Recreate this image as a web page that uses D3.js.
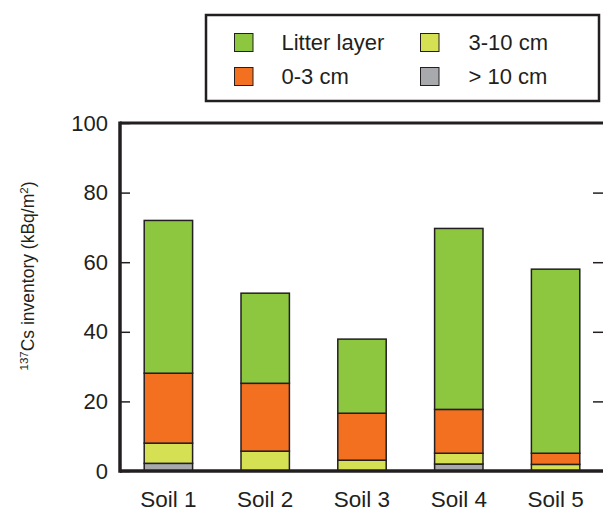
<!DOCTYPE html>
<html>
<head>
<meta charset="utf-8">
<script src="https://cdn.jsdelivr.net/npm/d3@7"></script>
<style>
  html, body { margin: 0; padding: 0; background: #fff; }
  svg { display: block; font-family: "Liberation Sans", Arial, Helvetica, sans-serif; }
</style>
</head>
<body>
<svg id="chart" width="603" height="511"></svg>
<script>
// Soil profiles and 137Cs inventory per layer (kBq/m2)
const soils = ["Soil 1", "Soil 2", "Soil 3", "Soil 4", "Soil 5"];
const layers = ["> 10 cm", "3-10 cm", "0-3 cm", "Litter layer"];
const deep = [2.2, 0, 0, 2.0, 0];          // > 10 cm
const mid = [5.8, 5.7, 3.1, 3.1, 1.9];     // 3-10 cm
const top3 = [20.1, 19.5, 13.5, 12.6, 3.2]; // 0-3 cm
const litter = [43.9, 25.9, 21.3, 52.0, 52.9]; // litter layer
const yTicks = [0, 20, 40, 60, 80, 100];

const colors = {
  "Litter layer": "#8dc63f",
  "0-3 cm": "#f37021",
  "3-10 cm": "#d5e052",
  "> 10 cm": "#a7a9ac"
};
const ink = "#231f20";

const rows = soils.map((s, i) => ({
  soil: s,
  "> 10 cm": deep[i],
  "3-10 cm": mid[i],
  "0-3 cm": top3[i],
  "Litter layer": litter[i]
}));

const svg = d3.select("#chart");
const left = 120, right = 604, topY = 123, bottom = 471;

const x = d3.scaleBand().domain(soils).range([left, right]).paddingInner(0.5).paddingOuter(0.25);
const y = d3.scaleLinear().domain([0, 100]).range([bottom, topY]);

const stacked = d3.stack().keys(layers)(rows);

// stacked bars
svg.append("g").selectAll("g")
  .data(stacked)
  .join("g")
  .attr("fill", d => colors[d.key])
  .selectAll("rect")
  .data(d => d.filter(p => p[1] - p[0] > 0))
  .join("rect")
  .attr("x", d => x(d.data.soil))
  .attr("width", x.bandwidth())
  .attr("y", d => y(d[1]))
  .attr("height", d => y(d[0]) - y(d[1]))
  .attr("stroke", ink)
  .attr("stroke-width", 1.5);

// left axis with inward ticks
const yAxis = svg.append("g")
  .attr("transform", `translate(${left},0)`)
  .call(d3.axisLeft(y).tickValues(yTicks).tickSize(-10).tickPadding(12).tickFormat(d3.format("d")));
yAxis.select(".domain").remove();
yAxis.selectAll(".tick line").attr("stroke", ink).attr("stroke-width", 1.5);
yAxis.selectAll(".tick text").attr("font-size", 22).attr("fill", ink)
  .attr("font-family", "'Liberation Sans', Arial, sans-serif");

// right axis ticks (inward)
const yAxisR = svg.append("g")
  .attr("transform", `translate(${right - 1},0)`)
  .call(d3.axisRight(y).tickValues(yTicks.slice(1, -1)).tickSize(-10).tickFormat(""));
yAxisR.select(".domain").remove();
yAxisR.selectAll(".tick line").attr("stroke", ink).attr("stroke-width", 1.5);

// frame lines
svg.append("line").attr("x1", left).attr("x2", 603).attr("y1", bottom).attr("y2", bottom)
  .attr("stroke", ink).attr("stroke-width", 3.5);
svg.append("line").attr("x1", left).attr("x2", 603).attr("y1", topY).attr("y2", topY)
  .attr("stroke", ink).attr("stroke-width", 3);
svg.append("line").attr("x1", left).attr("x2", left).attr("y1", topY - 1.5).attr("y2", bottom + 1.75)
  .attr("stroke", ink).attr("stroke-width", 3.5);

// category labels
svg.append("g").selectAll("text")
  .data(soils)
  .join("text")
  .attr("x", d => x(d) + x.bandwidth() / 2)
  .attr("y", 507)
  .attr("text-anchor", "middle")
  .attr("font-size", 22.5)
  .attr("fill", ink)
  .text(d => d);

// y axis title with superscripts
const title = svg.append("text")
  .attr("transform", "translate(34,276) rotate(-90)")
  .attr("text-anchor", "middle")
  .attr("font-size", 17.5)
  .attr("fill", ink);
title.append("tspan").attr("font-size", 11.5).attr("dy", -6).text("137");
title.append("tspan").attr("dy", 6).text("Cs inventory (kBq/m");
title.append("tspan").attr("font-size", 11.5).attr("dy", -6).text("2");
title.append("tspan").attr("dy", 6).text(")");

// legend
const legend = svg.append("g");
legend.append("rect")
  .attr("x", 206).attr("y", 15).attr("width", 393).attr("height", 86)
  .attr("fill", "#fff").attr("stroke", ink).attr("stroke-width", 2.5);

const legendItems = [
  { key: "Litter layer", col: 0, row: 0 },
  { key: "3-10 cm", col: 1, row: 0 },
  { key: "0-3 cm", col: 0, row: 1 },
  { key: "> 10 cm", col: 1, row: 1 }
];
const colX = [234.5, 420.5], rowY = [33.5, 67.5];
const items = legend.selectAll("g.item").data(legendItems).join("g").attr("class", "item");
items.append("rect")
  .attr("x", d => colX[d.col]).attr("y", d => rowY[d.row])
  .attr("width", 18.5).attr("height", 18)
  .attr("fill", d => colors[d.key])
  .attr("stroke", ink).attr("stroke-width", 1);
items.append("text")
  .attr("x", d => colX[d.col] + (d.col === 0 ? 47 : 48))
  .attr("y", d => rowY[d.row] + 16.5)
  .attr("font-size", 22)
  .attr("fill", ink)
  .text(d => d.key);
</script>
</body>
</html>
